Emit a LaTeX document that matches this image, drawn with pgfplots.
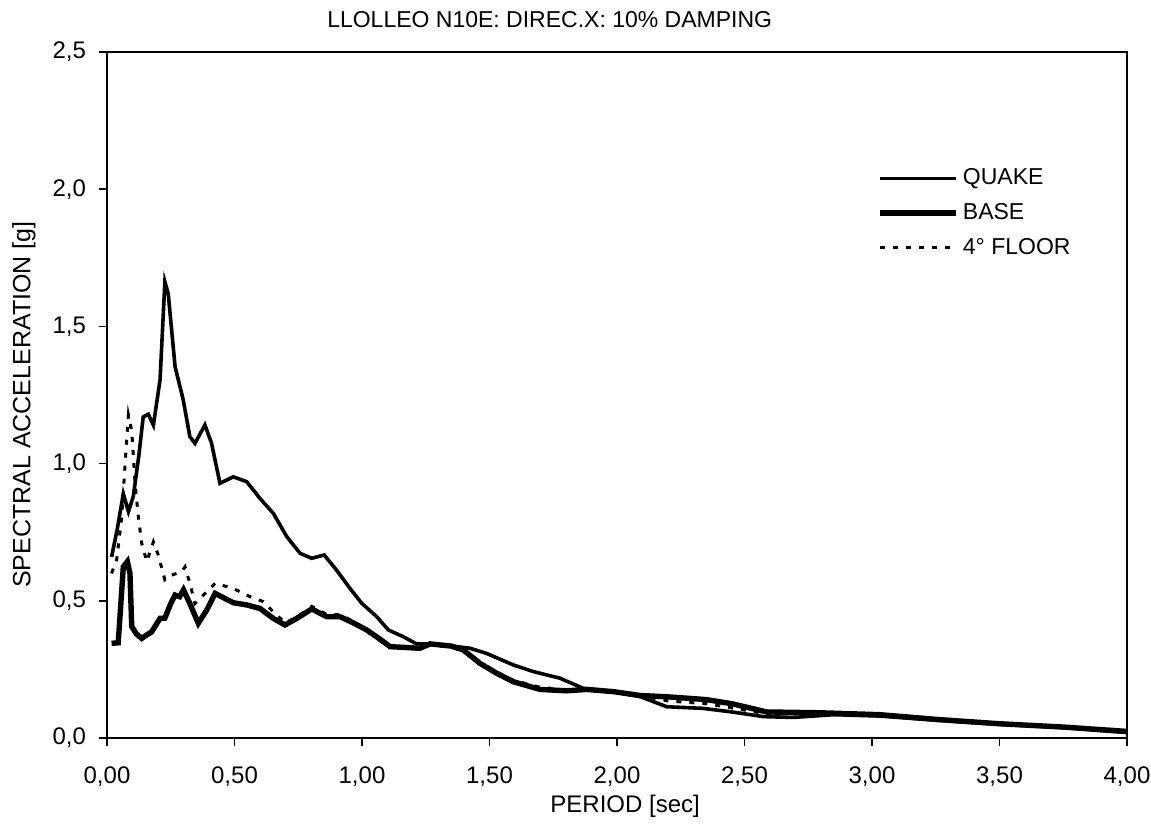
\documentclass[border=0pt]{standalone}
\usepackage{fontspec}
\setmainfont{Liberation Sans}
\usepackage{pgfplots}
\pgfplotsset{compat=1.18}

\begin{document}
\begin{tikzpicture}
\useasboundingbox (0,0) rectangle (575.5pt,413.5pt);
\begin{axis}[
   at={(53.5pt,44.5pt)}, anchor=south west,
   scale only axis,
   width=510pt, height=343pt,
   xmin=0, xmax=4, ymin=0, ymax=2.5,
   xtick={0,0.5,...,4}, ytick={0,0.5,...,2.5},
   tick align=outside, tick pos=left,
   major tick length=4pt,
   axis line style={line width=1pt},
   every tick/.style={black, line width=0.8pt},
   /pgf/number format/assume math mode=true,
   xticklabel style={font=\fontsize{12}{14}\selectfont, yshift=-7pt,
     /pgf/number format/.cd, fixed, fixed zerofill, precision=2, use comma},
   yticklabel style={font=\fontsize{12}{14}\selectfont, xshift=-3pt,
     /pgf/number format/.cd, fixed, fixed zerofill, precision=1, use comma},
   title={LLOLLEO N10E: DIREC.X: 10\% DAMPING},
   title style={font=\fontsize{11.5}{13}\selectfont, at={(axis description cs:0.434,1)}, anchor=center, yshift=10pt},
   xlabel={PERIOD [sec]},
   xlabel style={font=\fontsize{12}{14}\selectfont, at={(axis description cs:0.508,0)}, anchor=center, yshift=-34pt},
   ylabel={SPECTRAL ACCELERATION [g]},
   ylabel style={font=\fontsize{12.5}{14}\selectfont, at={(axis description cs:-0.0814,0.486)}, anchor=center},
   legend style={draw=none, fill=none, at={(0.755,0.836)}, anchor=north west,
     font=\fontsize{11.5}{13}\selectfont, row sep=3.8pt, inner sep=0pt,
     cells={anchor=west}},
   legend image code/.code={\draw[#1] (0pt,0pt) -- (38pt,0pt);},
 ]
 \addplot[black, line width=1.8pt] coordinates {
 (0.018,0.66) (0.04,0.76) (0.064,0.89) (0.084,0.825) (0.103,0.88) (0.125,1.03)
 (0.142,1.17) (0.162,1.18) (0.182,1.14) (0.208,1.305) (0.227,1.663) (0.24,1.62)
 (0.267,1.353) (0.299,1.232) (0.325,1.098) (0.345,1.074) (0.384,1.141) (0.41,1.074)
 (0.443,0.928) (0.495,0.952) (0.548,0.934) (0.6,0.873) (0.652,0.819) (0.705,0.734)
 (0.757,0.673) (0.803,0.655) (0.852,0.667) (0.9,0.612) (0.953,0.545) (0.999,0.491)
 (1.058,0.442) (1.103,0.394) (1.162,0.369) (1.214,0.343) (1.267,0.343) (1.319,0.339)
 (1.424,0.327) (1.489,0.308) (1.594,0.266) (1.672,0.242) (1.776,0.218) (1.868,0.181)
 (1.986,0.169) (2.09,0.151) (2.195,0.114) (2.338,0.108) (2.45,0.095) (2.574,0.078)
 (2.691,0.075) (2.85,0.085) (3.031,0.08) (3.25,0.065) (3.5,0.05) (3.75,0.038) (4.0,0.02)};
 \addplot[black, line width=2.7pt] coordinates {
 (0.018,0.345) (0.044,0.347) (0.064,0.624) (0.08,0.643) (0.09,0.6) (0.097,0.406)
 (0.115,0.38) (0.136,0.363) (0.155,0.375) (0.175,0.387) (0.208,0.436) (0.227,0.437)
 (0.25,0.49) (0.267,0.521) (0.285,0.515) (0.3,0.54) (0.325,0.49) (0.358,0.418)
 (0.391,0.466) (0.424,0.527) (0.495,0.493) (0.548,0.485) (0.6,0.472) (0.652,0.436)
 (0.698,0.412) (0.744,0.436) (0.803,0.47) (0.862,0.442) (0.914,0.442) (0.965,0.42)
 (1.018,0.394) (1.071,0.36) (1.11,0.333) (1.227,0.327) (1.267,0.343) (1.35,0.335)
 (1.397,0.321) (1.463,0.272) (1.53,0.235) (1.594,0.205) (1.698,0.177) (1.803,0.172)
 (1.881,0.177) (1.986,0.169) (2.09,0.155) (2.2,0.15) (2.35,0.14) (2.45,0.125)
 (2.587,0.095) (2.796,0.092) (3.031,0.085) (3.25,0.068) (3.5,0.052) (3.75,0.04) (4.0,0.024)};
 \addplot[black, line width=1.5pt, dash pattern=on 2.5pt off 4pt] coordinates {
 (0.018,0.6) (0.038,0.65) (0.058,0.806) (0.071,1.0) (0.084,1.177) (0.097,1.12)
 (0.11,0.928) (0.123,0.806) (0.136,0.71) (0.156,0.643) (0.182,0.715) (0.201,0.667)
 (0.227,0.576) (0.254,0.594) (0.293,0.606) (0.306,0.624) (0.325,0.564) (0.345,0.49)
 (0.391,0.533) (0.424,0.564) (0.495,0.545) (0.561,0.515) (0.613,0.497) (0.652,0.46)
 (0.698,0.42) (0.744,0.44) (0.803,0.48) (0.862,0.45) (0.914,0.45) (0.965,0.425)
 (1.018,0.39) (1.071,0.355) (1.11,0.33) (1.227,0.325) (1.267,0.34) (1.35,0.33)
 (1.397,0.318) (1.463,0.275) (1.53,0.24) (1.594,0.21) (1.698,0.185) (1.803,0.175)
 (1.881,0.175) (1.986,0.17) (2.09,0.155) (2.2,0.135) (2.35,0.125) (2.45,0.11)
 (2.587,0.088) (2.796,0.088) (3.031,0.082) (3.25,0.066) (3.5,0.051) (3.75,0.039) (4.0,0.022)};
 \legend{QUAKE,BASE,4° FLOOR}
\end{axis}
\end{tikzpicture}
\end{document}
